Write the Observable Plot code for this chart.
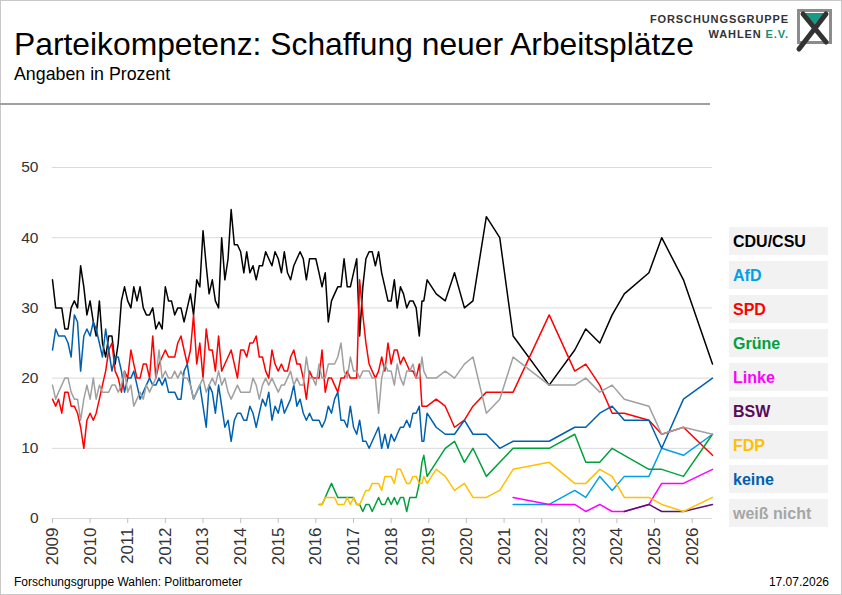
<!DOCTYPE html>
<html>
<head>
<meta charset="utf-8">
<script src="https://cdn.jsdelivr.net/npm/d3@7"></script>
<script src="https://cdn.jsdelivr.net/npm/@observablehq/plot@0.6"></script>
<style>
  html, body { margin: 0; padding: 0; background: #fff; }
  body { width: 842px; height: 595px; position: relative; overflow: hidden; font-family: "Liberation Sans", Arial, sans-serif; color: #000; }
  #frame { position: absolute; left: 0; top: 0; width: 842px; height: 595px; box-sizing: border-box; border: 1px solid #c8c8c8; }
  #title { position: absolute; left: 14px; top: 24px; font-size: 31.8px; line-height: 40px; white-space: nowrap; }
  #subtitle { position: absolute; left: 14px; top: 63px; font-size: 17.8px; line-height: 22px; white-space: nowrap; }
  #sep { position: absolute; left: 0; top: 103px; width: 710px; height: 2px; background: #a0a0a0; }
  #logo { position: absolute; left: 640px; top: 0; }
  #chart { position: absolute; left: 0; top: 140px; }
  #legend { position: absolute; left: 729px; top: 227px; }
  .lg { position: absolute; left: 0; width: 99px; height: 28px; background: #f2f2f2; font-weight: bold; font-size: 16px; line-height: 29px; padding-left: 4px; box-sizing: border-box; white-space: nowrap; }
  #source { position: absolute; left: 14px; top: 575px; font-size: 12px; line-height: 14px; }
  #date { position: absolute; right: 13px; top: 575px; font-size: 12px; line-height: 14px; }
</style>
</head>
<body>
<div id="frame"></div>
<div id="title">Parteikompetenz: Schaffung neuer Arbeitsplätze</div>
<div id="subtitle">Angaben in Prozent</div>
<div id="sep"></div>
<svg id="logo" width="202" height="56" viewBox="640 0 202 56">
  <text x="789" y="23" text-anchor="end" font-family="Liberation Sans, Arial, sans-serif" font-weight="bold" font-size="11px" letter-spacing="0.9" fill="#333">FORSCHUNGSGRUPPE</text>
  <text x="789" y="38" text-anchor="end" font-family="Liberation Sans, Arial, sans-serif" font-weight="bold" font-size="11px" letter-spacing="0.9" fill="#333">WAHLEN <tspan fill="#1a8c78">E.V.</tspan></text>
  <rect x="798.5" y="10.5" width="32" height="32" fill="#fff" stroke="#8c8c8c" stroke-width="3"/>
  <polygon points="804,13 825,13 814.5,25" fill="#1a9a85"/>
  <line x1="803" y1="14" x2="826" y2="42" stroke="#333" stroke-width="5" stroke-linecap="round"/>
  <line x1="826" y1="14" x2="799" y2="49" stroke="#333" stroke-width="5" stroke-linecap="round"/>
</svg>
<div id="chart"></div>
<div id="legend"></div>
<div id="source">Forschungsgruppe Wahlen: Politbarometer</div>
<div id="date">17.07.2026</div>
<script>
// ---------- DATA ----------
const parties = ["CDU/CSU", "AfD", "SPD", "Grüne", "Linke", "BSW", "FDP", "keine", "weiß nicht"];
const partyColors = ["#000000", "#00a0e6", "#ff0000", "#00a03c", "#ff00ff", "#5a1478", "#ffc000", "#0060b0", "#a0a0a0"];
const legendColors = ["#000000", "#00a0e6", "#ff0000", "#00a03c", "#ff00ff", "#5a0a5a", "#ffc000", "#0060b0", "#a6a6a6"];

// monthly survey period Jan 2009 – Oct 2018
const denseStart = "2009-01-01", denseEnd = "2018-11-01";
// Grüne / FDP asked from Feb 2016
const smallStart = "2016-02-01";

const cduDense = [34,30,30,30,27,27,30,31,30,36,33,29,31,28,26,31,25,23,26,26,22,25,31,33,31,30,33,31,33,30,29,29,30,27,28,27,33,31,31,29,30,
  30,28,30,32,29,34,33,41,36,32,34,31,30,40,34,37,44,39,39,38,35,38,35,36,34,36,36,38,37,36,38,37,35,38,35,34,36,37,38,37,34,37,
  37,37,35,33,35,28,31,32,33,33,37,33,33,35,37,26,33,37,38,38,36,38,35,33,31,31,34,30,33,32,30,31,31,30,26];
const spdDense = [17,16,17,15,18,18,16,16,15,13,10,14,15,14,15,17,19,21,24,25,21,20,18,21,20,24,22,20,20,22,22,20,26,20,22,23,24,23,23,23,25,
  26,24,22,24,29,22,25,20,27,24,24,21,26,21,22,23,24,22,20,24,24,23,25,25,26,23,23,21,20,24,22,21,22,21,21,23,24,22,22,20,17,21,
  20,20,20,24,18,20,20,19,18,20,20,21,20,20,20,34,29,25,22,21,20,21,23,21,25,22,24,24,22,23,22,21,21,20,22];
const keineDense = [24,27,26,26,26,25,23,29,28,21,26,27,26,28,27,25,23,27,24,21,23,23,21,18,20,20,21,19,17,18,19,20,19,19,20,19,20,18,18,18,17,
  17,21,22,19,17,18,19,16,13,19,18,15,19,16,13,14,11,14,15,15,14,14,16,15,13,15,17,16,18,14,16,15,17,15,16,17,19,16,17,15,14,15,
  14,14,14,13,14,16,15,17,18,14,14,13,16,13,12,14,11,11,10,11,12,13,10,12,10,12,11,12,13,13,14,13,15,15,16];
const wnDense = [19,17,18,19,20,20,18,17,17,14,17,19,17,20,17,19,18,18,18,19,19,18,19,21,18,19,16,17,18,17,19,18,19,20,24,20,21,20,20,21,20,
  21,20,20,19,17,18,19,20,18,19,20,19,21,19,20,18,17,18,19,18,18,18,18,20,19,17,19,20,19,20,19,18,19,19,20,21,19,20,19,19,23,20,
  20,19,22,20,20,22,22,22,23,25,21,20,23,21,21,20,21,21,21,20,20,15,20,22,21,21,19,22,20,19,21,21,22,20,20];
const grueneDense = [2,2,3,4,5,4,3,3,3,3,3,3,2,2,1,2,2,1,2,3,2,2,3,2,3,2,3,3,1,3,3,3,5];
const fdpDense = [2,2,3,3,3,3,2,2,2,3,2,3,2,2,3,4,4,5,5,5,4,6,6,6,5,7,7,6,5,5,6,6,5];

// later, less frequent surveys
const sparseDates = ["2018-10-27","2018-11-14","2018-12-16","2019-03-14","2019-06-10","2019-09-08","2019-12-13","2020-03-05","2020-07-13","2020-11-20","2021-03-30",
  "2022-03-15","2022-11-18","2023-03-05","2023-07-19","2023-11-16","2024-03-13","2024-11-07","2025-03-11","2025-10-08","2026-07-17"];
const cduSparse    = [31,31,34,32,31,35,30,31,43,40,26,19,24,27,25,29,32,35,40,34,22];
const afdSparse    = [null,null,null,null,null,null,null,null,null,null,2,2,4,3,6,4,6,6,10,9,12];
const spdSparse    = [16,16,16,17,16,13,14,16,18,18,18,29,21,22,19,15,15,14,12,13,9];
const grueneSparse = [8,9,6,8,10,11,8,10,6,8,10,10,12,8,8,10,9,7,7,6,12];
const linkeSparse  = [null,null,null,null,null,null,null,null,null,null,3,2,2,1,2,1,1,2,5,5,7];
const bswSparse    = [null,null,null,null,null,null,null,null,null,null,null,null,null,null,null,null,1,2,1,1,2];
const fdpSparse    = [5,6,5,7,6,4,5,3,3,4,7,8,5,5,7,6,3,3,2,1,3];
const keineSparse  = [11,11,15,13,12,12,14,12,12,10,11,11,13,13,15,16,14,14,10,17,20];
const wnSparse     = [23,21,20,20,21,20,22,23,15,17,23,19,19,20,18,19,17,16,12,13,12];

const yTicks = [0, 10, 20, 30, 40, 50];
const xDomain = ["2009-01-01", "2026-07-17"];

// ---------- BUILD TABLE ----------
const denseMonths = d3.utcMonths(new Date(denseStart), new Date(denseEnd));
const smallMonths = d3.utcMonths(new Date(smallStart), new Date(denseEnd));
const sDates = sparseDates.map(d => new Date(d));
const series = {
  "CDU/CSU":    [[denseMonths, cduDense], [sDates, cduSparse]],
  "AfD":        [[sDates, afdSparse]],
  "SPD":        [[denseMonths, spdDense], [sDates, spdSparse]],
  "Grüne":      [[smallMonths, grueneDense], [sDates, grueneSparse]],
  "Linke":      [[sDates, linkeSparse]],
  "BSW":        [[sDates, bswSparse]],
  "FDP":        [[smallMonths, fdpDense], [sDates, fdpSparse]],
  "keine":      [[denseMonths, keineDense], [sDates, keineSparse]],
  "weiß nicht": [[denseMonths, wnDense], [sDates, wnSparse]]
};
const rows = [];
for (const p of parties) {
  for (const [dates, vals] of series[p]) {
    vals.forEach((v, i) => { if (v != null) rows.push({party: p, date: dates[i], value: v}); });
  }
}

// ---------- CHART ----------
const chart = Plot.plot({
  width: 720,
  height: 440,
  marginLeft: 52,
  marginRight: 8,
  marginTop: 27,
  marginBottom: 62,
  style: {fontFamily: "Liberation Sans, Arial, sans-serif", fontSize: "16px", background: "transparent", overflow: "visible"},
  x: {type: "utc", domain: xDomain.map(d => new Date(d))},
  y: {domain: [0, 50]},
  color: {domain: parties, range: partyColors},
  marks: [
    Plot.gridY(yTicks, {stroke: "#d9d9d9", strokeOpacity: 1, strokeWidth: 1}),
    Plot.axisY(yTicks, {tickSize: 0, tickPadding: 14, fontSize: 15.5, fill: "#333", label: null}),
    Plot.axisX({ticks: d3.utcYear.every(1), tickFormat: "%Y", tickRotate: -90, tickSize: 5, tickPadding: 4,
                stroke: "#c0c0c0", fill: "#333", fontSize: 17, label: null}),
    Plot.line(rows, {x: "date", y: "value", z: "party", stroke: "party", strokeWidth: 1.5, curve: "linear"})
  ]
});
document.getElementById("chart").appendChild(chart);

// ---------- LEGEND ----------
const legend = document.getElementById("legend");
parties.forEach((p, k) => {
  const el = document.createElement("div");
  el.className = "lg";
  el.style.top = (k * 34) + "px";
  el.style.color = legendColors[k];
  el.textContent = p;
  legend.appendChild(el);
});
</script>
</body>
</html>
